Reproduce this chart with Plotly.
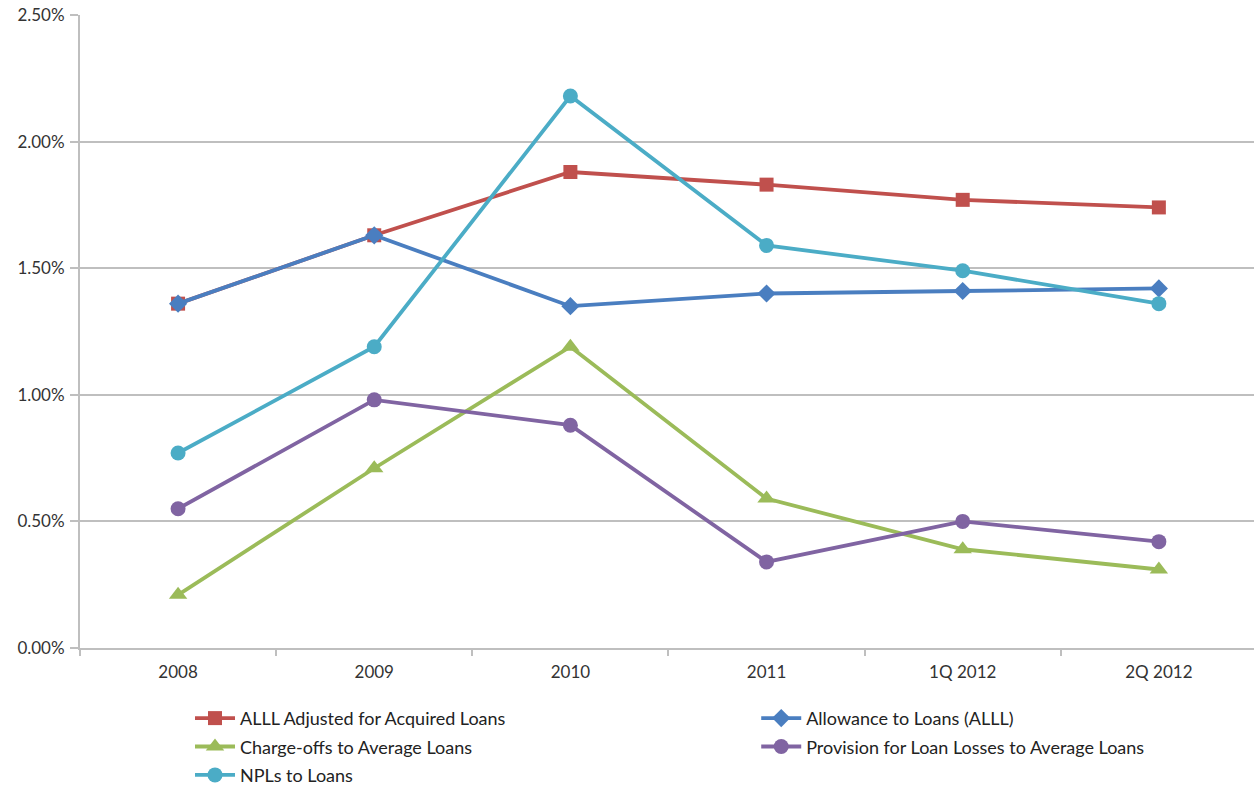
import plotly.graph_objects as go

periods = ["2008", "2009", "2010", "2011", "1Q 2012", "2Q 2012"]

alll_adjusted = [1.36, 1.63, 1.88, 1.83, 1.77, 1.74]
allowance_to_loans = [1.36, 1.63, 1.35, 1.40, 1.41, 1.42]
chargeoffs_to_avg = [0.21, 0.71, 1.19, 0.59, 0.39, 0.31]
provision_to_avg = [0.55, 0.98, 0.88, 0.34, 0.50, 0.42]
npls_to_loans = [0.77, 1.19, 2.18, 1.59, 1.49, 1.36]

y_ticks = [0.0, 0.5, 1.0, 1.5, 2.0, 2.5]
y_tick_labels = ["0.00%", "0.50%", "1.00%", "1.50%", "2.00%", "2.50%"]

# name, values, colour, marker symbol, marker size, legend column
series = [
    ("ALLL Adjusted for Acquired Loans", alll_adjusted, "#C0504D", "square", 14, "legend"),
    ("Allowance to Loans (ALLL)", allowance_to_loans, "#4A7EC0", "diamond", 14, "legend2"),
    ("Charge-offs to Average Loans", chargeoffs_to_avg, "#9BBB59", "triangle-up", 16, "legend"),
    ("Provision for Loan Losses to Average Loans", provision_to_avg, "#8064A2", "circle", 15, "legend2"),
    ("NPLs to Loans", npls_to_loans, "#4BACC6", "circle", 15, "legend"),
]

fig = go.Figure()
for name, values, color, symbol, size, legend_id in series:
    fig.add_trace(go.Scatter(
        x=periods, y=values, name=name, mode="lines+markers",
        line=dict(color=color, width=3.8),
        marker=dict(symbol=symbol, size=size, color=color),
        legend=legend_id, legendgroup=name,
    ))

axis_gray = "#BFBFBF"
text_color = "#333333"
legend_style = dict(
    orientation="v", xanchor="left", yanchor="top", y=-0.082,
    font=dict(size=18, color="#222222"),
    itemwidth=40, tracegroupgap=2,
    bgcolor="rgba(0,0,0,0)",
)

fig.update_layout(
    width=1254, height=786,
    margin=dict(l=80, r=0, t=15, b=138, autoexpand=False),
    plot_bgcolor="white", paper_bgcolor="white",
    font=dict(family="Lato, Open Sans, sans-serif", size=17, color=text_color),
    showlegend=True,
    legend=dict(x=0.0937, **legend_style),
    legend2=dict(x=0.576, **legend_style),
    xaxis=dict(
        type="category", range=[-0.5, 5.485],
        showgrid=False, showline=True, linecolor=axis_gray, linewidth=2,
        ticks="outside", tickson="boundaries", ticklen=6, tickcolor=axis_gray,
        tickwidth=1.5, ticklabelstandoff=8,
        tickfont=dict(size=17, color=text_color),
    ),
    yaxis=dict(
        range=[0, 2.5], tickvals=y_ticks, ticktext=y_tick_labels,
        showgrid=True, gridcolor=axis_gray, gridwidth=1.5,
        showline=True, linecolor=axis_gray, linewidth=2,
        ticks="outside", ticklen=8, tickcolor=axis_gray, tickwidth=1.5,
        ticklabelstandoff=2,
        zeroline=False,
        tickfont=dict(size=17, color=text_color),
    ),
)

fig.write_html("out.html")
